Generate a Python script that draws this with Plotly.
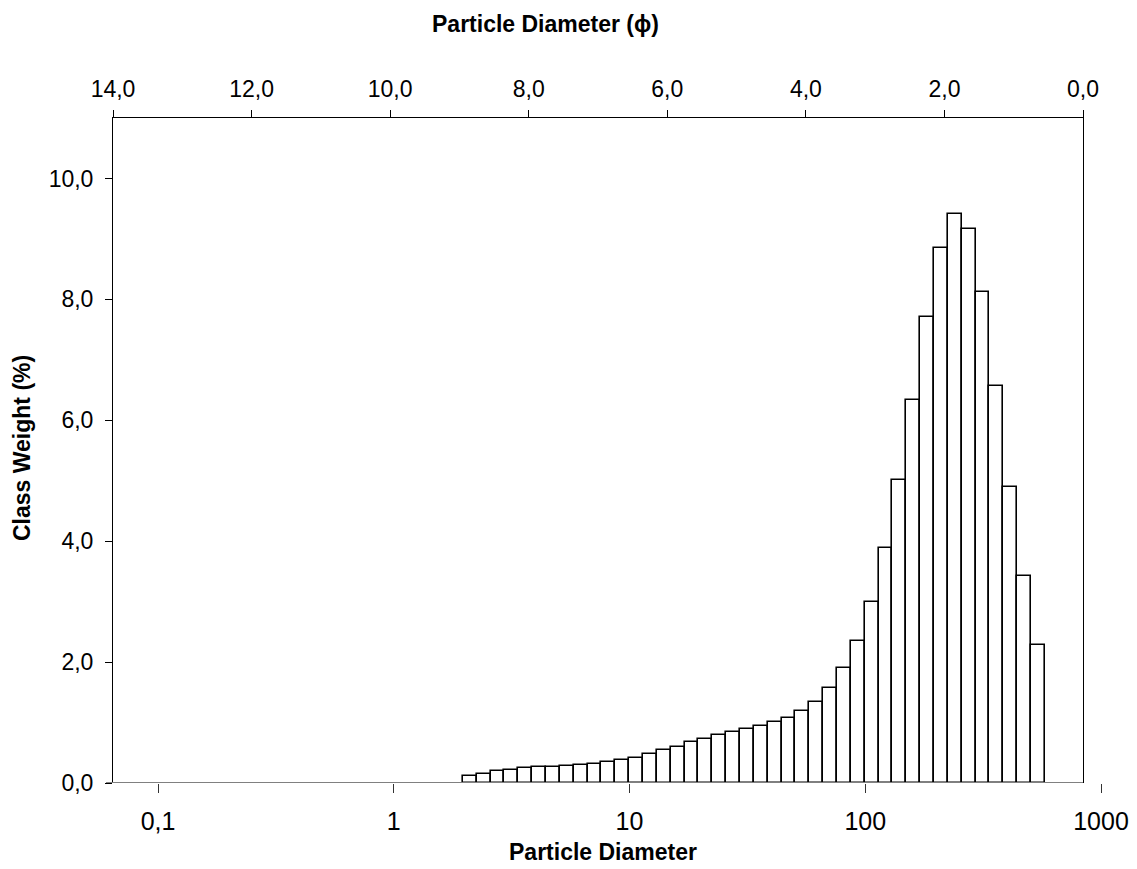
import plotly.graph_objects as go

# Class midpoints in phi units (0.2 phi classes)
phi_mid = [8.85, 8.65, 8.45, 8.25, 8.05, 7.85, 7.65, 7.45, 7.25, 7.05,
           6.85, 6.65, 6.45, 6.25, 6.05, 5.85, 5.65, 5.45, 5.25, 5.05,
           4.85, 4.65, 4.45, 4.25, 4.05, 3.85, 3.65, 3.45, 3.25, 3.05,
           2.85, 2.65, 2.45, 2.25, 2.05, 1.85, 1.65, 1.45, 1.25, 1.05,
           0.85, 0.65]
# Class weight (%)
weight = [0.12, 0.15, 0.20, 0.22, 0.24, 0.26, 0.27, 0.285, 0.30, 0.32,
          0.345, 0.385, 0.42, 0.48, 0.54, 0.60, 0.675, 0.735, 0.80, 0.85,
          0.895, 0.95, 1.005, 1.075, 1.195, 1.345, 1.565, 1.895, 2.355, 3.00,
          3.89, 5.01, 6.335, 7.71, 8.845, 9.405, 9.16, 8.12, 6.575, 4.90,
          3.42, 2.29]

phi_ticks = [14, 12, 10, 8, 6, 4, 2, 0]
y_ticks = [0, 2, 4, 6, 8, 10]
um_ticks = [0.1, 1, 10, 100, 1000]
um_labels = ["0,1", "1", "10", "100", "1000"]

FONT = "Liberation Sans, Arial, sans-serif"
W, H = 1137, 869
ML, MR, MT, MB = 100, 20, 118, 86
PW = W - ML - MR
PH = H - MT - MB

def px_x(p):
    return (p - ML) / PW

def px_y(p):
    return (H - MB - p) / PH

fig = go.Figure()
fig.add_trace(go.Bar(
    x=phi_mid, y=weight, width=0.2, xaxis="x", yaxis="y",
    marker=dict(color="white", line=dict(color="black", width=1.6)),
    showlegend=False, hoverinfo="x+y"))
# invisible trace to activate the bottom logarithmic axis
fig.add_trace(go.Scatter(x=[1], y=[0], xaxis="x3", yaxis="y", mode="markers",
                         marker=dict(opacity=0), showlegend=False, hoverinfo="skip"))

fig.update_layout(
    width=W, height=H,
    margin=dict(l=ML, r=MR, t=MT, b=MB, autoexpand=False),
    paper_bgcolor="white", plot_bgcolor="rgba(0,0,0,0)",
    separators=", ",
    bargap=0,
    font=dict(family=FONT, color="black", size=22),
    xaxis=dict(domain=[px_x(113), px_x(1083)], side="top", anchor="y",
               range=[14, 0], tickvals=phi_ticks, tickformat=".1f",
               ticks="outside", ticklen=7, tickcolor="black", tickwidth=1,
               showline=True, linecolor="black", linewidth=1,
               showgrid=False, zeroline=False, automargin=False,
               ticklabelstandoff=4,
               tickfont=dict(size=23, family=FONT)),
    xaxis3=dict(domain=[0, 1], side="bottom", anchor="y", type="log",
                range=[-1.24608, 3.06788], tickvals=um_ticks, ticktext=um_labels,
                ticks="outside", ticklen=9, tickcolor="#333333", tickwidth=1,
                showline=False, showgrid=False, zeroline=False, automargin=False,
                ticklabelstandoff=7,
                tickfont=dict(size=25, family=FONT)),
    yaxis=dict(domain=[0, 1], anchor="x", range=[0, 11], tickvals=y_ticks,
               tickformat=".1f", ticks="outside", ticklen=7, tickcolor="black",
               showline=True, linecolor="black", linewidth=1, mirror=True,
               showgrid=False, zeroline=False, automargin=False,
               ticklabelstandoff=7,
               tickfont=dict(size=23, family=FONT)),
    shapes=[dict(type="line", xref="paper", yref="y",
                 x0=px_x(106), x1=px_x(1083), y0=0, y1=0,
                 line=dict(color="#808080", width=2))],
    annotations=[
        dict(text="<b>Particle Diameter (ϕ)</b>", xref="paper", yref="paper",
             x=px_x(545), y=px_y(24), xanchor="center", yanchor="middle",
             showarrow=False, font=dict(size=23, family=FONT)),
        dict(text="<b>Particle Diameter</b>", xref="paper", yref="paper",
             x=px_x(603), y=px_y(852), xanchor="center", yanchor="middle",
             showarrow=False, font=dict(size=23, family=FONT)),
        dict(text="<b>Class Weight (%)</b>", xref="paper", yref="paper",
             x=px_x(22), y=px_y(448), xanchor="center", yanchor="middle",
             textangle=-90, showarrow=False, font=dict(size=23, family=FONT)),
    ],
)

fig.write_html(
    "out.html",
    config={"displayModeBar": False},
    post_script="document.body.style.margin='0';document.body.style.overflow='hidden';",
)
